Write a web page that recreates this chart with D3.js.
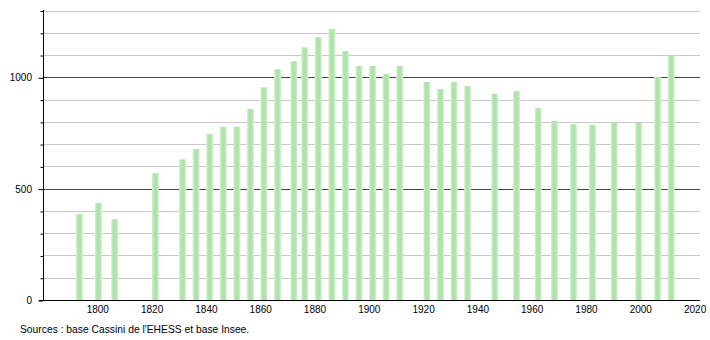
<!DOCTYPE html>
<html><head><meta charset="utf-8">
<script src="https://cdn.jsdelivr.net/npm/d3@7"></script>
<style>body{margin:0;background:#fff}svg{display:block;font-family:"Liberation Sans",Arial,sans-serif}</style>
</head><body><svg id="c" width="710" height="340"></svg>
<script>
const years = [1793,1800,1806,1821,1831,1836,1841,1846,1851,1856,1861,1866,1872,1876,1881,1886,1891,1896,1901,1906,1911,1921,1926,1931,1936,1946,1954,1962,1968,1975,1982,1990,1999,2006,2011];
const population = [386,436,362,570,632,678,745,778,778,858,955,1037,1073,1135,1180,1217,1118,1051,1051,1015,1051,979,947,979,961,925,938,862,804,790,786,796,796,1001,1097];
const xTicks = [1800,1820,1840,1860,1880,1900,1920,1940,1960,1980,2000,2020];
const yLabelTicks = [0,500,1000];
const yGrid = [100,200,300,400,500,600,700,800,900,1000,1100,1200,1300];
const source = "Sources : base Cassini de l'EHESS et base Insee.";

const svg = d3.select("#c");
const x = d3.scaleLinear().domain([1780,2022]).range([43,700]);
const y = d3.scaleLinear().domain([0,1300]).range([300,10.5]);

const defs = svg.append("defs");
const g = defs.append("linearGradient").attr("id","bg").attr("x1","0").attr("x2","1").attr("y1","0").attr("y2","0");
g.append("stop").attr("offset","0").attr("stop-color","#d9f2d6");
g.append("stop").attr("offset","0.3").attr("stop-color","#b0e3ab");
g.append("stop").attr("offset","0.7").attr("stop-color","#b0e3ab");
g.append("stop").attr("offset","1").attr("stop-color","#d9f2d6");

// grid
svg.append("g").selectAll("line").data(yGrid).join("line")
  .attr("x1",43).attr("x2",700)
  .attr("y1",d=>Math.round(y(d))+0.5).attr("y2",d=>Math.round(y(d))+0.5)
  .attr("stroke",d=>d%500===0?"#444":"#c8c8c8").attr("stroke-width",1);

// bars
const bw = 7;
svg.append("g").selectAll("rect").data(years).join("rect")
  .attr("x",(d)=>x(d+0.4)-bw/2).attr("width",bw)
  .attr("y",(d,i)=>y(population[i])).attr("height",(d,i)=>y(0)-y(population[i]))
  .attr("fill","url(#bg)");

// y axis
const yAxis = d3.axisLeft(y).tickValues(yGrid.concat([0])).tickSize(3).tickFormat("");
const ya = svg.append("g").attr("transform","translate(43.5,0)").call(yAxis);
ya.select(".domain").attr("d","M0,10V300").attr("stroke","#000");
ya.selectAll(".tick line").attr("stroke","#000").attr("x2",d=>d%500===0?-5:-3).attr("transform","translate(0,0.5)");
svg.append("g").selectAll("text").data(yLabelTicks).join("text")
  .attr("x",32).attr("y",d=>y(d)+4).attr("text-anchor","end")
  .attr("font-size",10).attr("fill","#000").text(d=>d);

// x axis
const xAxis = d3.axisBottom(x).tickValues(xTicks).tickSize(0).tickFormat(d3.format("d"));
const xa = svg.append("g").attr("transform","translate(0,300.5)").call(xAxis);
xa.select(".domain").attr("d","M39,0H700").attr("stroke","#000");
xa.selectAll(".tick text").attr("font-size",10).attr("fill","#000").attr("dy","0").attr("y",12)
  .attr("font-family","Liberation Sans, Arial, sans-serif");

svg.append("text").attr("x",20).attr("y",333).attr("font-size",10.3).attr("fill","#000").text(source);
</script></body></html>
